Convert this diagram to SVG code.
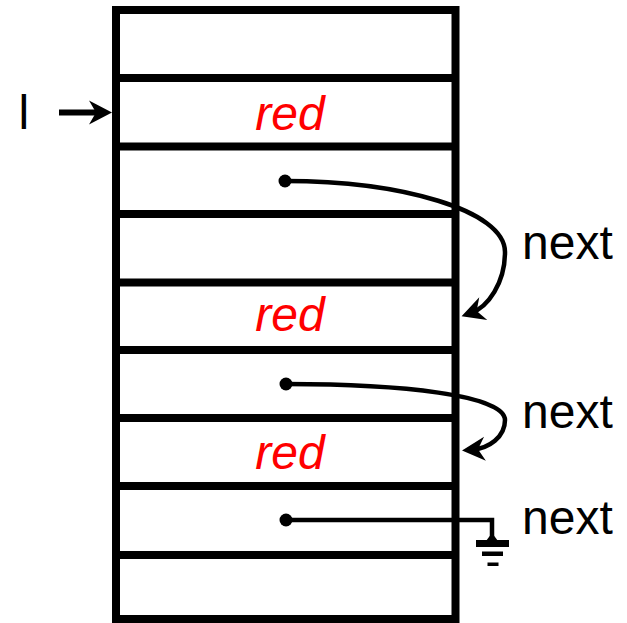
<svg xmlns="http://www.w3.org/2000/svg" width="627" height="623" viewBox="0 0 627 623">
<style>
.box{fill:none;stroke:#000;stroke-width:8}
.div{stroke:#000;stroke-width:8}
.lbl{font-family:"Liberation Sans",Arial,sans-serif;font-size:48px;fill:#000}
.red{font-family:"Liberation Sans",Arial,sans-serif;font-size:48px;font-style:italic;fill:#ff0000;text-anchor:middle}
.ptr{fill:none;stroke:#000;stroke-width:4.5}
.dot{fill:#000}
</style>
<defs>
<marker id="ah" markerUnits="userSpaceOnUse" markerWidth="30" markerHeight="30" viewBox="-15 -15 30 30" refX="0" refY="0" orient="auto" overflow="visible">
<path d="M10,0 L-13,-12 L-6,0 L-13,12 Z" fill="#000"/>
</marker>
</defs>
<g id="memory">
<rect class="box" x="116" y="10" width="339.5" height="609"/>
<line class="div" x1="116" y1="78" x2="455.5" y2="78"/>
<line class="div" x1="116" y1="146.5" x2="455.5" y2="146.5"/>
<line class="div" x1="116" y1="214" x2="455.5" y2="214"/>
<line class="div" x1="116" y1="282.5" x2="455.5" y2="282.5"/>
<line class="div" x1="116" y1="350" x2="455.5" y2="350"/>
<line class="div" x1="116" y1="418" x2="455.5" y2="418"/>
<line class="div" x1="116" y1="486" x2="455.5" y2="486"/>
<line class="div" x1="116" y1="555" x2="455.5" y2="555"/>
</g>
<g id="cell1"><text class="red" x="290" y="130">red</text></g>
<g id="cell2"><text class="red" x="290" y="331">red</text></g>
<g id="cell3"><text class="red" x="290" y="469">red</text></g>
<g id="pointer-l"><text class="lbl" x="18.5" y="129">l</text></g>
<g id="labels">
<text class="lbl" x="522" y="259">next</text>
<text class="lbl" x="522" y="428">next</text>
<text class="lbl" x="522" y="534">next</text>
</g>
<g id="connectors">
<line x1="59" y1="112.5" x2="102" y2="112.5" stroke="#000" stroke-width="6" marker-end="url(#ah)"/>
<circle class="dot" cx="285" cy="181" r="6.5"/>
<path class="ptr" d="M285,181 C400,181 505,210 505,252 C505,283 488,307 471,313" marker-end="url(#ah)"/>
<circle class="dot" cx="286" cy="384" r="6.5"/>
<path class="ptr" d="M286,384 C400,384 505,395 505,420 C505,437 489,448.4 472,449.7" marker-end="url(#ah)"/>
<circle class="dot" cx="286" cy="520" r="6.5"/>
<path class="ptr" d="M286,520 H492 V540"/>
<polygon points="486,541 492,533 498,541" fill="#000"/>
<rect x="476" y="540" width="33" height="7" fill="#000"/>
<rect x="482" y="551.5" width="21" height="4.5" fill="#000"/>
<rect x="487.5" y="562.5" width="11" height="3.5" fill="#000"/>
</g>
</svg>
